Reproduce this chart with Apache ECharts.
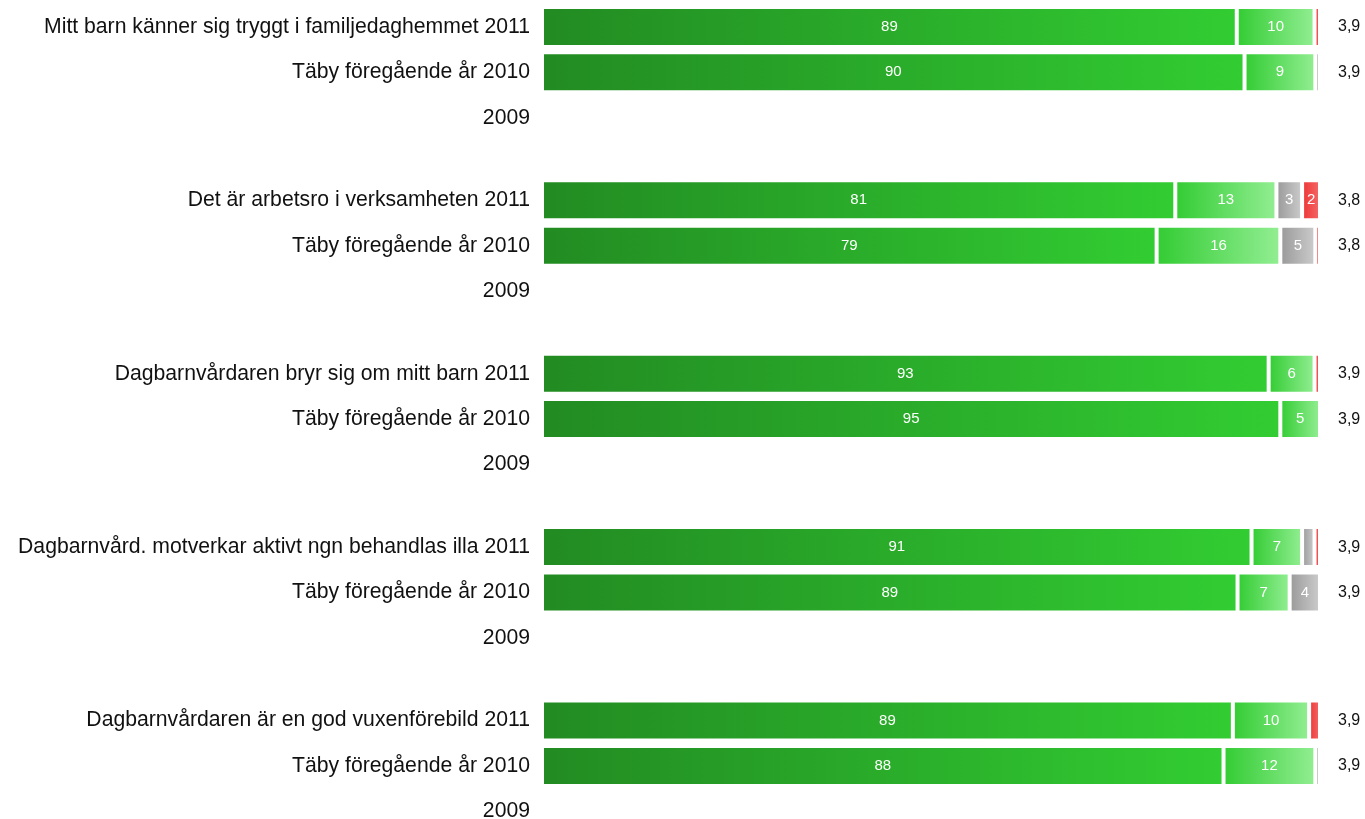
<!DOCTYPE html>
<html>
<head>
<meta charset="utf-8">
<script src="https://cdn.jsdelivr.net/npm/echarts@6/dist/echarts.min.js"></script>
<style>
html,body{margin:0;padding:0;background:#fff;overflow:hidden;}
#c{width:1365px;height:860px;}
</style>
</head>
<body>
<div id="c"></div>
<script>
const questions = [
  'Mitt barn känner sig tryggt i familjedaghemmet 2011',
  'Det är arbetsro i verksamheten 2011',
  'Dagbarnvårdaren bryr sig om mitt barn 2011',
  'Dagbarnvård. motverkar aktivt ngn behandlas illa 2011',
  'Dagbarnvårdaren är en god vuxenförebild 2011'
];
const prevLabel = 'Täby föregående år 2010';
const oldLabel = '2009';

// per group: [2011, 2010, 2009]
const valGreen = [[89.3, 90.3, null], [81.4, 79.0, null], [93.4, 94.9, null], [91.2, 89.4, null], [88.8, 87.6, null]];
const valLight = [[10.0, 9.1, null], [13.0, 15.9, null], [5.9, 5.1, null], [6.5, 6.7, null], [9.8, 11.8, null]];
const valGray  = [[null, 0.6, null], [3.3, 4.5, null], [null, null, null], [1.6, 3.9, null], [null, 0.6, null]];
const valRed   = [[0.7, null, null], [2.3, 0.6, null], [0.7, null, null], [0.7, null, null], [1.4, null, null]];
const means    = [['3,9', '3,9', ''], ['3,8', '3,8', ''], ['3,9', '3,9', ''], ['3,9', '3,9', ''], ['3,9', '3,9', '']];

const FONT = '"Liberation Sans", Arial, sans-serif';
const seriesDefs = [
  { name: 'Instämmer helt', data: valGreen, c0: '#228B22', c1: '#32CD32' },
  { name: 'Instämmer delvis', data: valLight, c0: '#33CC33', c1: '#92EE92' },
  { name: 'Instämmer knappast', data: valGray, c0: '#999999', c1: '#CCCCCC' },
  { name: 'Instämmer inte', data: valRed, c0: '#EE3535', c1: '#F46868' }
];

const GROUP_STEP = 173.4, BAND = 45.4, TOP0 = 4.2;
const grids = [], xAxes = [], yAxes = [], series = [];
questions.forEach((q, i) => {
  grids.push({ left: 542, right: 45, top: TOP0 + GROUP_STEP * i, height: BAND * 3, containLabel: false });
  xAxes.push({ type: 'value', gridIndex: i, min: 0, max: 100, show: false });
  yAxes.push({
    type: 'category', gridIndex: i, inverse: true, position: 'left',
    data: [q, prevLabel, oldLabel],
    axisLine: { show: false }, axisTick: { show: false },
    axisLabel: { fontFamily: FONT, fontSize: 21.2, color: '#111111', margin: 12 }
  });
  yAxes.push({
    type: 'category', gridIndex: i, inverse: true, position: 'right',
    data: means[i],
    axisLine: { show: false }, axisTick: { show: false },
    axisLabel: { fontFamily: FONT, fontSize: 16, color: '#111111', margin: 18, align: 'left' }
  });
  seriesDefs.forEach(sd => {
    series.push({
      name: sd.name, type: 'bar', stack: 'g' + i,
      xAxisIndex: i, yAxisIndex: i * 2,
      barWidth: 40,
      data: sd.data[i],
      itemStyle: {
        borderColor: '#ffffff', borderWidth: 2,
        color: { type: 'linear', x: 0, y: 0, x2: 1, y2: 0,
          colorStops: [{ offset: 0, color: sd.c0 }, { offset: 1, color: sd.c1 }] }
      },
      label: {
        show: true, position: 'inside', color: '#ffffff',
        fontFamily: FONT, fontSize: 15,
        formatter: p => (p.value != null && p.value >= 2) ? String(Math.round(p.value)) : ''
      },
      emphasis: { disabled: true },
      animation: false
    });
  });
});

const chart = echarts.init(document.getElementById('c'), null, { renderer: 'canvas' });
chart.setOption({
  backgroundColor: '#ffffff',
  animation: false,
  grid: grids, xAxis: xAxes, yAxis: yAxes, series: series
});
</script>
</body>
</html>
